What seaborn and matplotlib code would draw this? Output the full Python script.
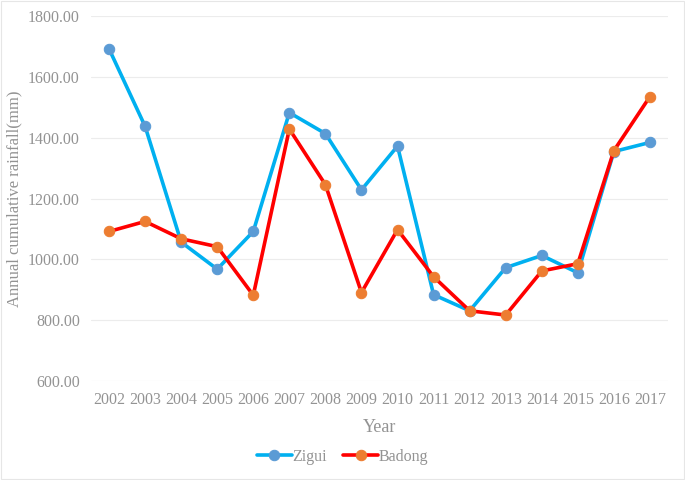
import pandas as pd
import numpy as np
import matplotlib.pyplot as plt
import seaborn as sns

# Annual cumulative rainfall (mm)
years = [str(y) for y in range(2002, 2018)]
zigui = [1693, 1438, 1057, 968, 1092, 1483, 1414, 1229, 1373,
         884, 831, 973, 1013, 956, 1355, 1385]
badong = [1092, 1125, 1068, 1042, 882, 1429, 1246, 891, 1098,
          943, 831, 817, 962, 986, 1358, 1536]
yticks = [600, 800, 1000, 1200, 1400, 1600, 1800]

sns.set_style('white')
plt.rcParams['font.family'] = ['Liberation Serif', 'DejaVu Serif']
grey = '#939393'

df = pd.DataFrame({'Year': years, 'Zigui': zigui, 'Badong': badong})
long = df.melt(id_vars='Year', var_name='Station', value_name='Rainfall')

fig = plt.figure(figsize=(6.85, 4.8), dpi=100)
ax = fig.add_axes([91 / 685, 1 - 381 / 480, (668 - 91) / 685, (381 - 16.3) / 480])

line_colors = {'Zigui': '#00B0F0', 'Badong': '#FF0000'}
marker_colors = {'Zigui': '#5B9BD5', 'Badong': '#ED7D31'}

for name in ['Zigui', 'Badong']:
    sub = long[long['Station'] == name]
    sns.lineplot(data=sub, x='Year', y='Rainfall', ax=ax, color=line_colors[name],
                 linewidth=2.6, marker='o', markersize=7.5,
                 markerfacecolor=marker_colors[name], markeredgecolor=marker_colors[name],
                 label=name, sort=False)

ax.set_xlim(-0.5, len(years) - 0.5)
ax.set_ylim(600, 1800)
ax.set_yticks(yticks)
ax.set_yticklabels([f'{v:.2f}' for v in yticks])
ax.yaxis.grid(True, color='#ececec', linewidth=0.8)
ax.xaxis.grid(False)
for s in ax.spines.values():
    s.set_visible(False)
ax.tick_params(axis='both', colors=grey, labelsize=11.5, length=0, pad=8)
ax.set_xlabel('Year', color=grey, fontsize=13, labelpad=8)
ax.set_ylabel('Annual cumulative rainfall(mm)', color=grey, fontsize=12, labelpad=4)

handles, labels = ax.get_legend_handles_labels()
ax.get_legend().remove()
fig.legend(handles, labels, loc='center', bbox_to_anchor=(0.5, 1 - 457 / 480), ncol=2,
           frameon=False, fontsize=11.5, labelcolor=grey, handlelength=2.2,
           columnspacing=1.0, handletextpad=0.05)

# faint border around the figure
fig.patches.append(plt.Rectangle((0.002, 0.002), 0.996, 0.996, transform=fig.transFigure,
                                 fill=False, edgecolor='#e6e6e6', linewidth=0.8))

fig.savefig('out.png', dpi=100)
